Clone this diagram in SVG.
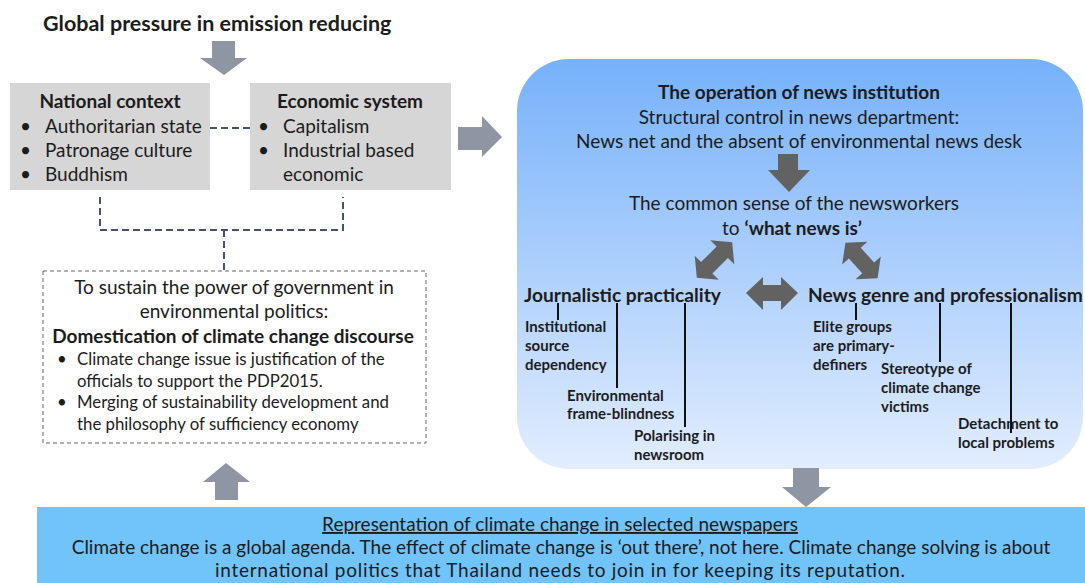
<svg xmlns="http://www.w3.org/2000/svg" width="1085" height="583" viewBox="0 0 1085 583">
<defs>
<linearGradient id="blueGrad" x1="0" y1="0" x2="0" y2="1">
<stop offset="0" stop-color="#76b1fa"/>
<stop offset="1" stop-color="#e2edfe"/>
</linearGradient>
<style>
text{font-family:Lato,"Liberation Sans",sans-serif;fill:#1c1c1c}
.t18{font-size:19px}
.b{font-weight:bold}
.mid{text-anchor:middle}
.gray{fill:#d6d6d6}
.small{font-size:15px;font-weight:bold}
.dbox{font-size:16.8px}
.hdr{font-size:19.2px;font-weight:bold}
.garrow{fill:#8e96a3}
.darrow{fill:#626262}
.dash{fill:none;stroke:#44546a;stroke-width:2;stroke-dasharray:7,4}
.leader{stroke:#111;stroke-width:2}
.bottom{font-size:19px}
</style>
</defs>

<g id="title">
<text x="43" y="31" class="b" style="font-size:21.5px">Global pressure in emission reducing</text>
</g>

<g id="national-context">
<rect x="10" y="83" width="200" height="107" class="gray"/>
<text x="110" y="108" class="t18 b mid">National context</text>
<text x="20" y="133" class="t18">•</text><text x="45" y="133" class="t18">Authoritarian state</text>
<text x="20" y="157" class="t18">•</text><text x="45" y="157" class="t18">Patronage culture</text>
<text x="20" y="181" class="t18">•</text><text x="45" y="181" class="t18">Buddhism</text>
</g>

<g id="economic-system">
<rect x="250" y="83" width="201" height="107" class="gray"/>
<text x="350" y="108" class="t18 b mid">Economic system</text>
<text x="258" y="133" class="t18">•</text><text x="283" y="133" class="t18">Capitalism</text>
<text x="258" y="157" class="t18">•</text><text x="283" y="157" class="t18">Industrial based</text>
<text x="283" y="181" class="t18">economic</text>
</g>

<g id="domestication">
<rect x="43" y="271" width="383" height="172" fill="#fff" stroke="#666" stroke-width="1" stroke-dasharray="4,3"/>
<text x="234" y="294" class="t18 mid">To sustain the power of government in</text>
<text x="234" y="318" class="t18 mid">environmental politics:</text>
<text x="233" y="343" class="b mid" style="font-size:19px">Domestication of climate change discourse</text>
<text x="57" y="365" class="dbox">•</text><text x="77" y="365" class="dbox">Climate change issue is justification of the</text>
<text x="77" y="387" class="dbox">officials to support the PDP2015.</text>
<text x="57" y="408" class="dbox">•</text><text x="77" y="408" class="dbox">Merging of sustainability development and</text>
<text x="77" y="430" class="dbox">the philosophy of sufficiency economy</text>
</g>

<g id="news-institution">
<rect x="517" y="59" width="566" height="410" rx="52" ry="52" fill="url(#blueGrad)"/>
<text x="799" y="99" class="t18 b mid">The operation of news institution</text>
<text x="799" y="124" class="t18 mid">Structural control in news department:</text>
<text x="799" y="148" class="t18 mid">News net and the absent of environmental news desk</text>
<text x="794" y="210" class="t18 mid">The common sense of the newsworkers</text>
<text x="792" y="235" class="t18 mid">to <tspan class="b">‘what news is’</tspan></text>
</g>

<g id="journalistic-practicality">
<text x="524" y="302" class="hdr">Journalistic practicality</text>
<text x="525" y="332" class="small">Institutional</text>
<text x="525" y="351" class="small">source</text>
<text x="525" y="370" class="small">dependency</text>
<text x="567" y="401" class="small">Environmental</text>
<text x="567" y="419" class="small">frame-blindness</text>
<text x="634" y="441" class="small">Polarising in</text>
<text x="634" y="460" class="small">newsroom</text>
</g>

<g id="news-genre">
<text x="808" y="302" class="hdr">News genre and professionalism</text>
<text x="813" y="332" class="small">Elite groups</text>
<text x="813" y="351" class="small">are primary-</text>
<text x="813" y="370" class="small">definers</text>
<text x="881" y="374" class="small">Stereotype of</text>
<text x="881" y="393" class="small">climate change</text>
<text x="881" y="412" class="small">victims</text>
<text x="958" y="429" class="small">Detachment to</text>
<text x="958" y="448" class="small">local problems</text>
</g>

<g id="representation">
<rect x="37" y="507" width="1048" height="76" fill="#70c4fa"/>
<text x="560" y="531" class="bottom mid" text-decoration="underline">Representation of climate change in selected newspapers</text>
<text x="561" y="554" class="bottom mid">Climate change is a global agenda. The effect of climate change is ‘out there’, not here. Climate change solving is about</text>
<text x="560" y="577" class="bottom mid" textLength="690" lengthAdjust="spacing">international politics that Thailand needs to join in for keeping its reputation.</text>
</g>

<g id="connectors">
<polygon class="garrow" points="212,41 235,41 235,58 247,58 224,75 200,58 212,58"/>
<polygon class="garrow" points="458,127 482,127 482,116 502,137 482,157 482,150 458,150"/>
<line x1="210" y1="128" x2="250" y2="128" class="dash"/>
<polyline points="100,197 100,230 343,230 343,197" class="dash"/>
<line x1="224" y1="230" x2="224" y2="270" class="dash"/>
<polygon class="garrow" points="226,463 250,482 238,482 238,500 215,500 215,482 203,482"/>
<polygon class="garrow" points="793,468 819,468 819,487 831,487 806,507 782,487 793,487"/>
<polygon class="darrow" points="778,154 798,154 798,170 810,170 789,192 768,170 778,170"/>
<g transform="translate(714.5,260) rotate(-45)">
<polygon class="darrow" points="-25,0 -11,-17 -11,-8 11,-8 11,-17 25,0 11,17 11,8 -11,8 -11,17"/>
</g>
<g transform="translate(861.5,260.5) rotate(48)">
<polygon class="darrow" points="-24,0 -10,-17 -10,-8 10,-8 10,-17 24,0 10,17 10,8 -10,8 -10,17"/>
</g>
<polygon class="darrow" points="746,293 763,277 763,285 781,285 781,277 798,293 781,310 781,301 763,301 763,310"/>
<line x1="558" y1="303" x2="558" y2="320" class="leader"/>
<line x1="617" y1="303" x2="617" y2="388" class="leader"/>
<line x1="685" y1="303" x2="685" y2="427" class="leader"/>
<line x1="856" y1="303" x2="856" y2="320" class="leader"/>
<line x1="940" y1="303" x2="940" y2="362" class="leader"/>
<line x1="1011" y1="303" x2="1011" y2="433" class="leader"/>
</g>
</svg>
